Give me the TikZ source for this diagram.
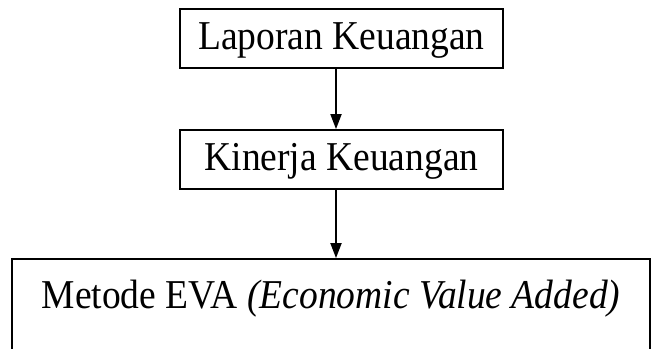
\documentclass[tikz,border=0pt]{standalone}
\usepackage{fontspec}
\setmainfont{Liberation Serif}[FakeStretch=0.915]
\usetikzlibrary{arrows.meta}

\begin{document}
\begin{tikzpicture}[x=0.5pt, y=-0.5pt]
    \useasboundingbox (0, 0) rectangle (652, 348);
    \tikzset{
      kotak/.style={draw, line width=0.9pt, inner sep=0pt,
        text height=16pt, text depth=4.6pt,
        font=\fontsize{20.5}{24}\selectfont},
      panah/.style={line width=0.9pt, -{Triangle[length=7.5pt, width=5.5pt]}}
    }
    \coordinate (poros) at (336, 0);

    % Kotak alur
    \node[kotak, minimum width=161.5pt, minimum height=29.5pt] (lapkeu)
      at (341.5, 38.5) {Laporan Keuangan};
    \node[kotak, minimum width=161.5pt, minimum height=29.5pt] (kinkeu)
      at (341.5, 159.5) {Kinerja Keuangan};
    \node[kotak, minimum width=319pt, minimum height=46.5pt, text depth=13pt]
      (eva) at (331, 305.5) {Metode EVA \textit{(Economic Value Added)}};

    % Panah antar kotak
    \draw[panah] (lapkeu.south -| poros) -- (kinkeu.north -| poros);
    \draw[panah] (kinkeu.south -| poros) -- (eva.north -| poros);
\end{tikzpicture}
\end{document}
